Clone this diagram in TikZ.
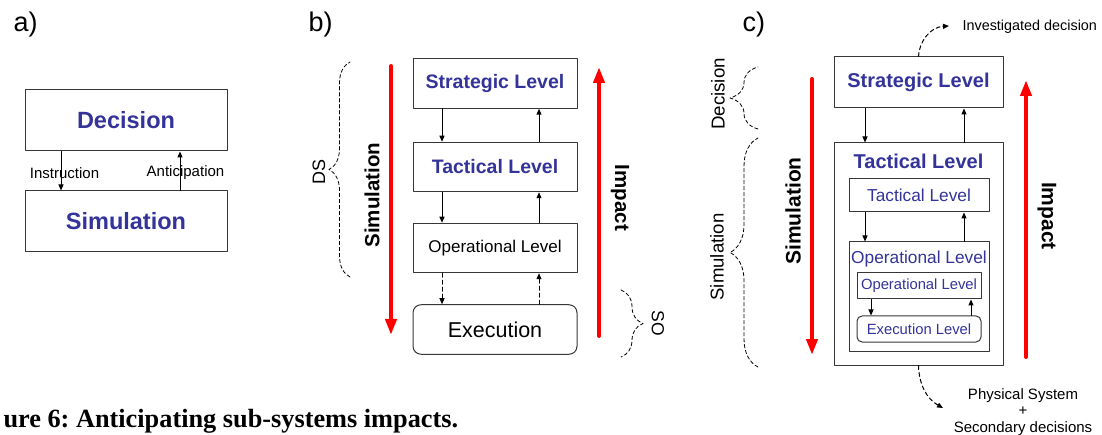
\documentclass[tikz,border=0pt]{standalone}
\usepackage{fontspec}
\setmainfont{Liberation Sans}
\newfontfamily\capfont{Liberation Serif}
\usetikzlibrary{arrows.meta,decorations.pathreplacing}
\definecolor{lvlblue}{RGB}{51,51,153}
\definecolor{boxgray}{RGB}{55,55,55}
\newcommand{\fsz}[1]{\fontsize{#1}{#1}\selectfont}
\frenchspacing
\begin{document}
\begin{tikzpicture}[x=1pt,y=-1pt,line join=round,line cap=round,
	box/.style={draw=boxgray,line width=1pt,inner sep=0pt},
	boxb/.style={box,minimum width=164pt,minimum height=49.5pt},
	tag/.style={anchor=base west,font=\fsz{27}},
	arr/.style={-{Triangle[length=6pt,width=5pt]},line width=1pt},
	darr/.style={arr,dash pattern=on 4pt off 3pt},
	bigarr/.style={red,line width=4pt,-{Triangle[length=16pt,width=11pt]}},
	dbrace/.style={decorate,decoration={brace,amplitude=#1},dash pattern=on 3.5pt off 2.5pt,line width=.8pt}]
	\useasboundingbox (0,0) rectangle (1102,435);
	\path
	(391,66) coordinate (bsimT)
	(391,335) coordinate (bsimB)
	(599,336) coordinate (bimpB)
	(599,67) coordinate (bimpT)
	(812,79) coordinate (csimT)
	(812,355) coordinate (csimB)
	(1026,357) coordinate (cimpB)
	(1026,80) coordinate (cimpT)
	(350,277) coordinate (dsB)
	(350,62) coordinate (dsT)
	(621,290) coordinate (soT)
	(621,357) coordinate (soB)
	(758,129) coordinate (cdecB)
	(758,67) coordinate (cdecT)
	(758,367) coordinate (csiB)
	(758,138) coordinate (csiT)
	(949,26) coordinate (invTip)
	(943,408) coordinate (physTip)
	;
	\node[tag] (ta) at (10,32) {a)};
	\node[tag] (tb) at (305,32) {b)};
	\node[tag] (tc) at (739,32) {c)};
	\node[box,minimum width=202pt,minimum height=61pt,text=lvlblue,font=\bfseries\fsz{23.5}] (dec) at (126,120.5) {Decision};
	\node[box,minimum width=202pt,minimum height=61pt,text=lvlblue,font=\bfseries\fsz{23.5}] (sim) at (126,221.5) {Simulation};
	\draw[arr] ([xshift=-65pt]dec.south) -- ([xshift=-65pt]sim.north);
	\draw[arr] ([xshift=54pt]sim.north) -- ([xshift=54pt]dec.south);
	\node[font=\fsz{15}] (instr) at (64.5,173) {Instruction};
	\node[font=\fsz{15}] (antic) at (185.5,173) {Anticipation};
	\node[boxb,text=lvlblue,font=\bfseries\fsz{19.5}] (bstr) at (495,83.5) {Strategic Level};
	\node[boxb,text=lvlblue,font=\bfseries\fsz{19.5}] (btac) at (495,167) {Tactical Level};
	\node[boxb,font=\fsz{17}] (bop) at (495,248) {Operational Level};
	\node[boxb,rounded corners=8pt,font=\fsz{21.5}] (bex) at (495,329.5) {Execution};
	\draw[arr] ([xshift=-53pt]bstr.south) -- ([xshift=-53pt]btac.north);
	\draw[arr] ([xshift=44pt]btac.north) -- ([xshift=44pt]bstr.south);
	\draw[arr] ([xshift=-53pt]btac.south) -- ([xshift=-53pt]bop.north);
	\draw[arr] ([xshift=44pt]bop.north) -- ([xshift=44pt]btac.south);
	\draw[darr] ([xshift=-53pt]bop.south) -- ([xshift=-53pt]bex.north);
	\draw[darr] ([xshift=44pt]bex.north) -- ([xshift=44pt]bop.south);
	\draw[bigarr] (bsimT) -- (bsimB);
	\draw[bigarr] (bimpB) -- (bimpT);
	\node[rotate=90,font=\bfseries\fsz{20.5}] (bsimL) at (372,195) {Simulation};
	\node[rotate=-90,font=\bfseries\fsz{20.5}] (bimpL) at (620,198) {Impact};
	\draw[dbrace=21pt] (dsB) -- (dsT);
	\draw[dbrace=22pt] (soT) -- (soB);
	\node[rotate=90,font=\fsz{18}] (dsL) at (319,172) {DS};
	\node[rotate=-90,font=\fsz{17.5}] (soL) at (658,323) {SO};
	\node[box,minimum width=169pt,minimum height=51pt,text=lvlblue,font=\bfseries\fsz{20}] (cstr) at (918.5,82.5) {Strategic Level};
	\node[box,minimum width=169pt,minimum height=222pt] (ctac) at (918.5,254) {};
	\node[anchor=base,text=lvlblue,font=\bfseries\fsz{20}] (ctacL) at (918.5,168.5) {Tactical Level};
	\node[box,minimum width=140pt,minimum height=33pt,text=lvlblue,font=\fsz{17.3}] (citac) at (919,195.5) {Tactical Level};
	\node[box,minimum width=140pt,minimum height=109pt] (cop) at (919,296.5) {};
	\node[anchor=base,text=lvlblue,font=\fsz{17.3}] (copL) at (919,263.5) {Operational Level};
	\node[box,minimum width=124pt,minimum height=26pt,text=lvlblue,font=\fsz{14.8}] (ciop) at (919,286) {Operational Level};
	\node[box,rounded corners=5pt,minimum width=124pt,minimum height=26pt,text=lvlblue,font=\fsz{14.8}] (cex) at (919,329) {Execution Level};
	\draw[arr] ([xshift=-53.5pt]cstr.south) -- ([xshift=-53.5pt]ctac.north);
	\draw[arr] ([xshift=45.5pt]ctac.north) -- ([xshift=45.5pt]cstr.south);
	\draw[arr] ([xshift=-54pt]citac.south) -- ([xshift=-54pt]cop.north);
	\draw[arr] ([xshift=45pt]cop.north) -- ([xshift=45pt]citac.south);
	\draw[arr] ([xshift=-48pt]ciop.south) -- ([xshift=-48pt]cex.north);
	\draw[arr] ([xshift=52pt]cex.north) -- ([xshift=52pt]ciop.south);
	\draw[bigarr] (csimT) -- (csimB);
	\draw[bigarr] (cimpB) -- (cimpT);
	\node[rotate=90,font=\bfseries\fsz{21}] (csimL) at (793,211) {Simulation};
	\node[rotate=-90,font=\bfseries\fsz{21}] (cimpL) at (1047,216) {Impact};
	\draw[dbrace=28pt] (cdecB) -- (cdecT);
	\draw[dbrace=28pt] (csiB) -- (csiT);
	\node[rotate=90,font=\fsz{18.7}] (cdecL) at (718,94) {Decision};
	\node[rotate=90,font=\fsz{18.6}] (csiL) at (717,257) {Simulation};
	\draw[darr] (cstr.north) .. controls (919,42) and (930,27) .. (invTip);
	\draw[darr] (ctac.south) .. controls (919,385) and (927,399) .. (physTip);
	\node[anchor=base west,font=\fsz{14.4}] (inv) at (959,31) {Investigated decision};
	\node[anchor=base,align=center,font=\fsz{15}] (phys) at (1023,432) {Physical System\\[1.5pt]+\\[1.5pt]Secondary decisions};
	\node[anchor=base west,font=\capfont\bfseries\fsz{26.3}] (cap) at (0,427) {ure 6: Anticipating sub-systems impacts.};
\end{tikzpicture}
\end{document}
